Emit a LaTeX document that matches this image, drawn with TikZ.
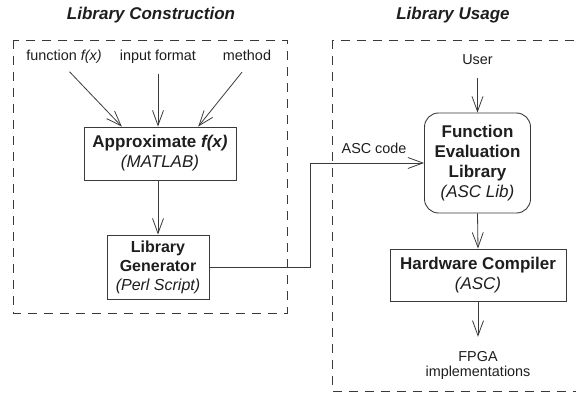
\documentclass[tikz,border=0pt]{standalone}
\usepackage{fontspec}
\setmainfont{Liberation Sans}
\usepackage{tikz}
\usetikzlibrary{positioning,calc,arrows.meta}

\definecolor{linegray}{HTML}{3A3A3A}
\definecolor{textgray}{HTML}{1E1E1E}

\tikzset{
    frame/.style={draw=linegray, line width=0.8pt, dash pattern=on 9pt off 7pt},
    block/.style={draw=linegray, line width=0.9pt, align=center, inner sep=0pt, text=textgray,
        font=\fontsize{17}{20}\selectfont},
    label/.style={inner sep=2pt, text=textgray, text height=10.5pt, text depth=3pt,
        font=\fontsize{14.4}{17}\selectfont},
    title/.style={text=textgray, font=\fontsize{17}{20}\selectfont\bfseries\itshape},
    arr/.style={draw=linegray, line width=0.8pt, -{Straight Barb[length=15pt,width=11pt]}},
}

\begin{document}
\begin{tikzpicture}[x=1pt, y=-1pt]
    \clip (0,0) rectangle (576,396);
    \useasboundingbox (0,0) rectangle (576,396);

    % Dashed frames
    \draw[frame] (13,40) rectangle (287,313);
    \draw[frame] (332,40) rectangle (590,391);
    \node[title] (constr) at (151,15) {Library Construction};
    \node[title] (usage) at (453,15) {Library Usage};

    % Library construction
    \node[label] (fin) at (64,57) {function \textit{f(x)}};
    \node[label] (informat) at (158,57) {input format};
    \node[label] (method) at (247,57) {method};

    \node[block, minimum width=152pt, minimum height=53pt] (approx) at (160,153.5)
        {\textbf{Approximate \textit{f(x)}}\\ \textit{(MATLAB)}};
    \node[block, minimum width=102pt, minimum height=64pt, font=\fontsize{16}{19}\selectfont] (libgen) at (158,267)
        {\textbf{Library}\\ \textbf{Generator}\\ \textit{(Perl Script)}};

    \draw[arr, shorten <=8pt] (fin.south) -- ($(approx.north)!0.5!(approx.north west)$);
    \draw[arr, shorten <=8pt] (informat.south) -- (informat.south |- approx.north);
    \draw[arr, shorten <=8pt] (method.south) -- ($(approx.north)!0.5!(approx.north east)$);
    \draw[arr] (approx.south -| libgen.north) -- (libgen.north);

    % Library usage
    \node[label] (user) at (477.5,61) {User};
    \node[block, rounded corners=14pt, minimum width=106pt, minimum height=100pt] (fel) at (477.5,163)
        {\textbf{Function}\\ \textbf{Evaluation}\\ \textbf{Library}\\ \textit{(ASC Lib)}};
    \node[block, minimum width=176pt, minimum height=52pt] (hwc) at (478,275)
        {\textbf{Hardware Compiler}\\ \textit{(ASC)}};
    \node[label, text height=, text depth=, align=center, font=\fontsize{14.4}{15}\selectfont] (fpga) at (478,365)
        {FPGA\\implementations};

    \draw[arr, shorten <=8pt] (user.south) -- (fel.north);
    \draw[arr] (fel.south) -- (hwc.north);
    \draw[arr, shorten >=12pt] (hwc.south) -- (fpga.north);

    % Generated code passed to the library
    \draw[arr] (libgen.east) -- ++(101,0) |- node[label, above=4pt, pos=0.78] (asccode) {ASC code} (fel.west);
\end{tikzpicture}
\end{document}
